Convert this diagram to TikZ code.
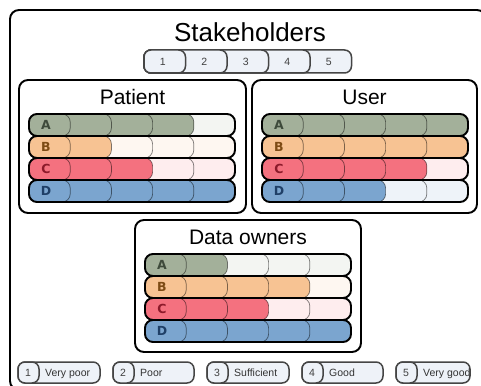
\documentclass[tikz,border=0pt]{standalone}
\usepackage{fontspec}
\setmainfont{Liberation Sans}
\newfontfamily\letterfont{DejaVu Sans}
\usetikzlibrary{calc}

\definecolor{rateA}{HTML}{A3B09A}
\definecolor{rateB}{HTML}{F7C393}
\definecolor{rateC}{HTML}{F4717F}
\definecolor{rateD}{HTML}{7BA5CF}
\definecolor{textA}{HTML}{3E4A3B}
\definecolor{textB}{HTML}{7D4B14}
\definecolor{textC}{HTML}{8C1A2A}
\definecolor{textD}{HTML}{1F3F67}
\definecolor{scalefill}{HTML}{EEF2F8}
\definecolor{scaleline}{HTML}{454545}

% one rated row: name, x, y, letter, colour, letter colour, score
\newcommand\ratingrow[7]{%
  \foreach \i in {5,4,3,2,1}{%
    \ifnum\i>#7\relax\def\segfill{#5!13}\else\def\segfill{#5}\fi
    \filldraw[tseg,fill=\segfill] (#2,#3) rectangle ++(41.2*\i,22);
  }
  \draw[trow] (#2,#3) rectangle ++(206,22);
  \node[tletter,text=#6] (#1) at (#2+17,#3+11) {#4};
}

\begin{document}
\begin{tikzpicture}[x=1pt,y=-1pt,
    tbox/.style={draw=black,line width=1.9pt,rounded corners=9pt},
    tseg/.style={draw=black,draw opacity=0.5,line width=0.7pt,rounded corners=8pt},
    trow/.style={draw=black,line width=1.9pt,rounded corners=8pt},
    tscale/.style={draw=scaleline,fill=scalefill,line width=1.5pt,rounded corners=7pt},
    ttitle/.style={inner sep=0pt,anchor=base,font=\fontsize{21}{21}\selectfont},
    tnum/.style={inner sep=0pt,text=black!75,font=\fontsize{10.5}{10.5}\selectfont},
    tkey/.style={inner sep=0pt,anchor=base west,text=black!80,font=\fontsize{10.5}{10.5}\selectfont},
    tletter/.style={inner sep=0pt,font=\letterfont\bfseries\fontsize{12.5}{12.5}\selectfont}
    ]
\useasboundingbox (0,0) rectangle (481,385);

% outer frame
\draw[tbox] (10,10) rectangle (486,390);
\node[ttitle,font=\fontsize{26}{26}\selectfont] (stakeholders) at (250,42) {Stakeholders};

% scale 1..5
\foreach \i in {5,...,1}
  \filldraw[tscale] (144,50) rectangle ({144+41.5*\i},73);
\foreach \i in {1,...,5}
  \node[tnum] (scale\i) at ({144+41.5*(\i-0.5)-2},61.5) {\i};

% patient
\draw[tbox] (19,80) rectangle (246,213);
\node[ttitle] (patient) at (132.5,105) {Patient};
\ratingrow{patA}{29}{114}{A}{rateA}{textA}{4}
\ratingrow{patB}{29}{136}{B}{rateB}{textB}{2}
\ratingrow{patC}{29}{158}{C}{rateC}{textC}{3}
\ratingrow{patD}{29}{180}{D}{rateD}{textD}{5}

% user
\draw[tbox] (252,80) rectangle (477,213);
\node[ttitle] (user) at (364.5,104.5) {User};
\ratingrow{useA}{262}{114}{A}{rateA}{textA}{5}
\ratingrow{useB}{262}{136}{B}{rateB}{textB}{5}
\ratingrow{useC}{262}{158}{C}{rateC}{textC}{4}
\ratingrow{useD}{262}{180}{D}{rateD}{textD}{3}

% data owners
\draw[tbox] (135,220) rectangle (361,352);
\node[ttitle] (owners) at (248,244.5) {Data owners};
\ratingrow{ownA}{145}{254}{A}{rateA}{textA}{2}
\ratingrow{ownB}{145}{276}{B}{rateB}{textB}{4}
\ratingrow{ownC}{145}{298}{C}{rateC}{textC}{3}
\ratingrow{ownD}{145}{320}{D}{rateD}{textD}{5}

% key
\foreach \lx/\lw/\ln/\lt in {18/82/1/Very poor, 113/81/2/Poor, 207/82/3/Sufficient,
    302/81/4/Good, 396/74/5/Very good}{
  \filldraw[tscale] (\lx,362) rectangle ++(\lw,21);
  \filldraw[tscale] (\lx,362) rectangle ++(21,21);
  \node[tnum] (key\ln) at (\lx+10,372.5) {\ln};
  \node[tkey] (keytext\ln) at (\lx+27,376.3) {\lt};
}
\end{tikzpicture}
\end{document}
